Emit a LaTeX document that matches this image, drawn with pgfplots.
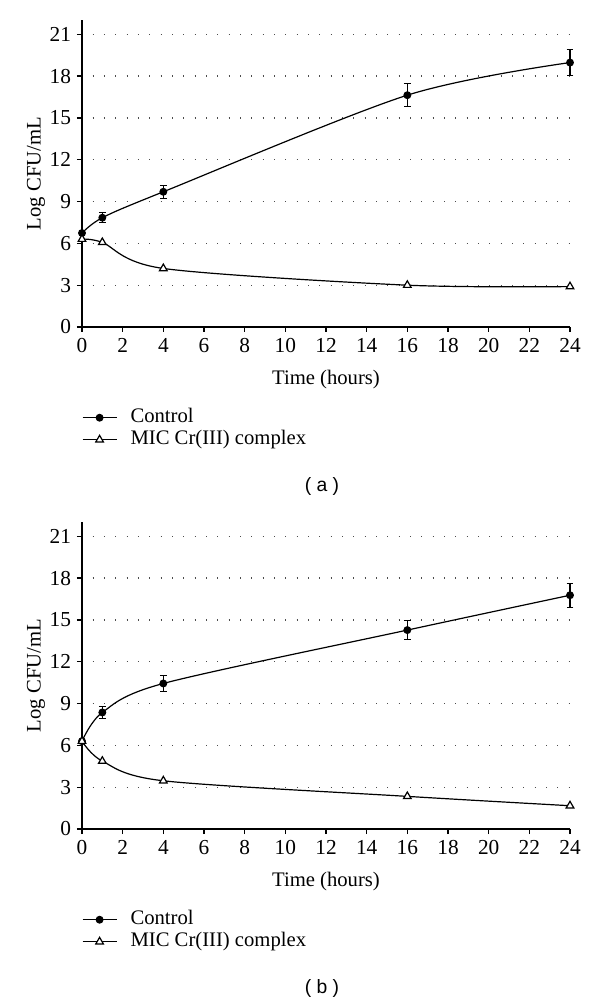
\documentclass[border=0pt]{standalone}
\usepackage{pgfplots}
\pgfplotsset{compat=1.18}
\usepackage{fontspec}
\setmainfont{Liberation Serif}
\newfontfamily\arial{Liberation Sans}

\pgfplotsset{
 mystyle/.style={
  scale only axis, width=366pt, height=230pt,
  xmin=0, xmax=24, ymin=0, ymax=22,
  axis lines*=left,
  xtick={0,2,...,24}, ytick={0,3,...,21},
  tick align=outside, major tick length=3.75pt,
  axis line style={line width=0.9pt},
  tick style={line width=0.9pt, black},
  ymajorgrids,
  grid style={line width=0.9pt, black!70, dash pattern=on 0.75pt off 7.75pt, dash phase=-8pt},
  clip=false,
  /pgf/number format/assume math mode=true,
  ticklabel style={font=\fontsize{16}{18}\selectfont},
  yticklabel style={xshift=-1pt},
  xticklabel style={yshift=-1pt},
  label style={font=\fontsize{15.5}{17}\selectfont},
  xlabel={Time (hours)}, ylabel={Log CFU/mL},
  xlabel style={at={(axis description cs:0.5,-0.1728)}, anchor=center},
  ylabel style={at={(axis description cs:-0.0943,0.5)}, anchor=center},
  legend style={at={(axis description cs:0,-0.26)}, anchor=north west, draw=none, fill=none,
    font=\fontsize{15.5}{17}\selectfont, inner sep=0pt, outer sep=0pt, row sep=0pt, column sep=8.5pt,
    nodes={text height=10.5pt, text depth=3pt, inner sep=1.5pt}},
  legend cell align=left,
  legend image code/.code={\draw[mark repeat=2,mark phase=2,#1] plot coordinates {(0pt,0pt) (12.75pt,0pt) (25.5pt,0pt)};},
 },
 ctrl/.style={black, line width=0.9pt, smooth, mark=*, mark size=2.5pt, mark options={solid}},
 mic/.style={black, line width=0.9pt, smooth, mark=triangle*, mark size=3.3pt, mark options={solid, fill=white, line width=0.9pt}},
}

\begin{document}
\begin{tikzpicture}
\useasboundingbox (0,0) rectangle (450pt,753pt);

\begin{axis}[mystyle, at={(61.5pt,507.75pt)}, anchor=south west]
\addplot+[ctrl, error bars/.cd, y dir=both, y explicit,
  error bar style={line width=0.8pt, solid}, error mark options={rotate=90, mark size=2.6pt, line width=0.8pt}]
  coordinates {(0,6.74) +- (0,0.2) (1,7.84) +- (0,0.35) (4,9.7) +- (0,0.45) (16,16.63) +- (0,0.84) (24,18.97) +- (0,0.95)};
\addlegendentry{Control}
\addplot+[mic] coordinates {(0,6.3) (1,6.07) (4,4.2) (16,3.0) (24,2.9)};
\addlegendentry{MIC Cr(III) complex}
\end{axis}
\node[font=\arial\fontsize{14.5}{16}\selectfont] at (241.5pt,387.75pt) {( a )};

\begin{axis}[mystyle, at={(61.5pt,131.25pt)}, anchor=south west]
\addplot+[ctrl, error bars/.cd, y dir=both, y explicit,
  error bar style={line width=0.8pt, solid}, error mark options={rotate=90, mark size=2.6pt, line width=0.8pt}]
  coordinates {(0,6.3) +- (0,0.1) (1,8.36) +- (0,0.45) (4,10.44) +- (0,0.55) (16,14.27) +- (0,0.7) (24,16.77) +- (0,0.85)};
\addlegendentry{Control}
\addplot+[mic] coordinates {(0,6.3) (1,4.87) (4,3.46) (16,2.34) (24,1.67)};
\addlegendentry{MIC Cr(III) complex}
\end{axis}
\node[font=\arial\fontsize{14.5}{16}\selectfont] at (241.5pt,12pt) {( b )};
\end{tikzpicture}
\end{document}
